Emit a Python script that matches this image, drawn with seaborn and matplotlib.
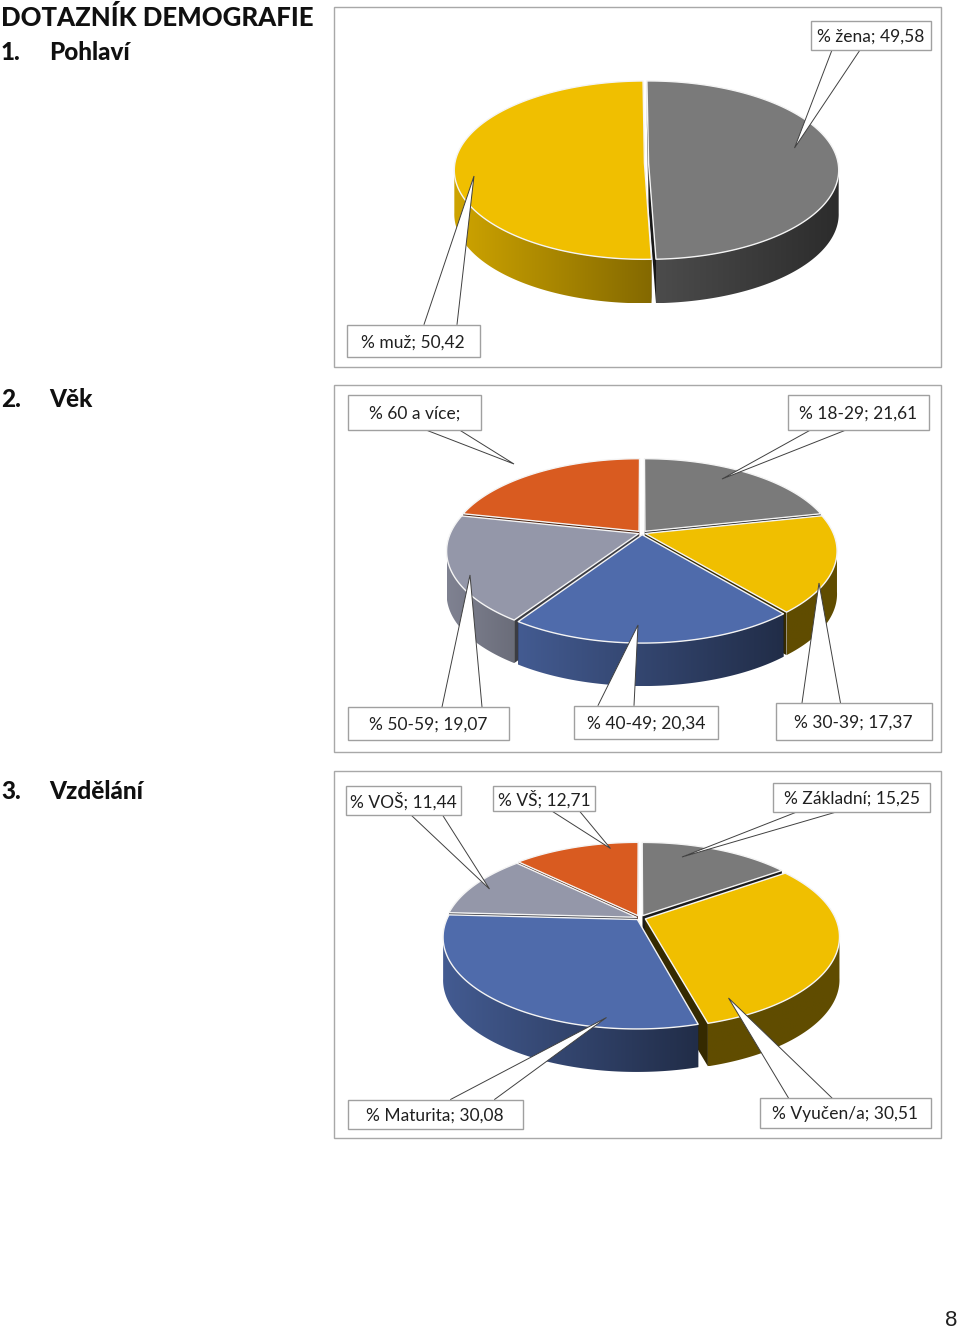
import numpy as np
import matplotlib
matplotlib.use("Agg")
import matplotlib.pyplot as plt
from matplotlib.colors import to_rgb
from matplotlib.patches import Polygon, Rectangle
import seaborn as sns

# ---- data ----
gender_values = [49.58, 50.42]
gender_labels = ["% žena; 49,58", "% muž; 50,42"]

age_values = [21.61, 17.37, 20.34, 19.07, 21.61]
age_labels = ["% 18-29; 21,61", "% 30-39; 17,37", "% 40-49; 20,34", "% 50-59; 19,07", "% 60 a více;"]

edu_values = [15.25, 30.51, 30.08, 11.44, 12.71]
edu_labels = ["% Základní; 15,25", "% Vyučen/a; 30,51", "% Maturita; 30,08", "% VOŠ; 11,44", "% VŠ; 12,71"]

# ---- style ----
sns.set_theme(style="white")
plt.rcParams["font.family"] = ["Lato", "DejaVu Sans"]
GRAY, YELLOW, BLUE, LAV, ORANGE = sns.color_palette(["#7a7a7a", "#f0bf00", "#4f6bab", "#9497a9", "#d95b20"])

fig = plt.figure(figsize=(9.6, 13.29), dpi=100)
ax = fig.add_axes([0, 0, 1, 1])
ax.set_xlim(0, 960)
ax.set_ylim(1329, 0)
ax.axis("off")


def shade(c, f):
    return tuple(min(1, x * f) for x in to_rgb(c))


def draw_pie(values, colors, walls, explode, cx, cy, rx, ry, depth, persp=0.19, rot=0.0):
    """Projected 3D pie; angles come from the values, clockwise from twelve o'clock."""
    fr = np.array(values) / np.sum(values)
    edges = 90 + rot - 360 * np.concatenate([[0], np.cumsum(fr)])

    def proj(u, v, z=0):
        w = 1 + persp * v
        return cx + rx * u / w, cy - ry * v / w + z

    order = sorted(range(len(values)),
                   key=lambda i: -np.sin(np.radians((edges[i] + edges[i + 1]) / 2)))
    base_z = 2.0
    for n, i in enumerate(order):
        z = base_z + n * 0.01
        a0, a1 = np.radians(edges[i]), np.radians(edges[i + 1])
        mid = (a0 + a1) / 2
        ox, oy = explode[i] * np.cos(mid), explode[i] * np.sin(mid)
        t = np.linspace(a0, a1, 200)
        u, v = np.cos(t) + ox, np.sin(t) + oy
        col = colors[i]
        f0, f1 = walls[i]
        # radial cut faces
        for a in (a0, a1):
            ux, vx = np.cos(a) + ox, np.sin(a) + oy
            p = [proj(ox, oy), proj(ux, vx), proj(ux, vx, depth), proj(ox, oy, depth)]
            ax.add_patch(Polygon(p, closed=True, fc=shade(col, min(f0, f1) * 0.55), ec="none", zorder=z))
        # outer wall, shaded left to right
        mask = np.sin(t) < -persp + 0.02
        if mask.sum() > 1:
            tu, tv = u[mask], v[mask]
            up = [proj(a, b) for a, b in zip(tu, tv)]
            lo_pts = [proj(a, b, depth) for a, b in zip(tu, tv)]
            poly = Polygon(up + lo_pts[::-1], closed=True, fc="none", ec="none",
                           transform=ax.transData)
            ax.add_patch(poly)
            xs = np.array([q[0] for q in up])
            ys = np.array([q[1] for q in up + lo_pts])
            lo, hi = xs.min(), xs.max()
            g = np.linspace(f0, f1, 256)
            img = np.array([[shade(col, f) for f in g]])
            im = ax.imshow(img, extent=(lo, hi, ys.max(), ys.min()), aspect="auto",
                           interpolation="bilinear", zorder=z + 0.001)
            im.set_clip_path(poly)
            ax.set_xlim(0, 960)
            ax.set_ylim(1329, 0)
        # top face
        pts = [proj(ox, oy)] + [proj(a, b) for a, b in zip(u, v)]
        ax.add_patch(Polygon(pts, closed=True, fc=col, ec="#f4f4f4", lw=1.0,
                             joinstyle="round", zorder=z + 0.002))


def panel(x0, y0, x1, y1):
    ax.add_patch(Rectangle((x0, y0), x1 - x0, y1 - y0, fc="white", ec="#a8a8a8", lw=1.0, zorder=1))


def callout(text, box, base, tip):
    x0, y0, x1, y1 = box
    ax.add_patch(Polygon([base[0], tip, base[1]], closed=True, fc="white", ec="none", zorder=3))
    ax.plot([base[0][0], tip[0], base[1][0]], [base[0][1], tip[1], base[1][1]],
            color="#404040", lw=0.7, zorder=3.1, solid_joinstyle="miter")
    ax.add_patch(Rectangle((x0, y0), x1 - x0, y1 - y0, fc="white", ec="#a0a0a0", lw=1.0, zorder=4))
    ax.text((x0 + x1) / 2, (y0 + y1) / 2 + 1.5, text, ha="center", va="center",
            fontsize=12.5, color="#202020", zorder=5)


# panels
panel(334, 7, 941, 367)
panel(334, 384.5, 941, 751.5)
panel(334, 770.5, 941, 1137.5)

# pies
draw_pie(gender_values, [GRAY, YELLOW], [(0.62, 0.36), (0.86, 0.55)], [0.011, 0.011],
         646.5, 163, 189.5, 88.6, 44, persp=0.08, rot=0.5)
draw_pie(age_values, [GRAY, YELLOW, BLUE, LAV, ORANGE],
         [(0.5, 0.4), (0.4, 0.4), (0.85, 0.42), (0.86, 0.72), (0.6, 0.6)],
         [0.025, 0.018, 0.02, 0.02, 0.025], 642, 533, 188, 87, 43)
draw_pie(edu_values, [GRAY, YELLOW, BLUE, LAV, ORANGE],
         [(0.5, 0.4), (0.4, 0.4), (0.85, 0.42), (0.8, 0.7), (0.6, 0.6)],
         [0.03, 0.03, 0.022, 0.02, 0.03], 640, 918, 190, 88, 43)

# callouts: gender
callout(gender_labels[0], (811, 21, 931, 50), [(832, 50), (860, 50)], (794.5, 148))
callout(gender_labels[1], (347, 324.5, 479.5, 357), [(424, 324.5), (457, 324.5)], (474, 176))
# callouts: age
callout(age_labels[4], (348, 395, 480.5, 430), [(426, 430), (459.5, 430)], (514, 464))
callout(age_labels[0], (788, 395, 929, 430), [(810.5, 430), (846, 430)], (722, 479))
callout(age_labels[3], (348, 707, 508.5, 739.5), [(442, 707), (482, 707)], (470, 575))
callout(age_labels[2], (574, 705.5, 718, 739), [(598, 705.5), (634, 705.5)], (638, 625))
callout(age_labels[1], (776, 703, 931.5, 740), [(802, 703), (840.5, 703)], (819, 583))
# callouts: education
callout(edu_labels[3], (346, 785.5, 460.5, 815), [(411, 815), (442.5, 815)], (489.5, 889))
callout(edu_labels[4], (493, 785.5, 595, 810.5), [(551, 810.5), (579, 810.5)], (610.5, 848.5))
callout(edu_labels[0], (773, 782.5, 930, 811.5), [(798, 811.5), (838, 811.5)], (682, 857))
callout(edu_labels[2], (347.5, 1099.5, 523, 1128.5), [(450.5, 1099.5), (494.5, 1099.5)], (606.5, 1017.5))
callout(edu_labels[1], (760, 1098, 931, 1127.5), [(788.5, 1098), (832, 1098)], (728.5, 998))

# headings
heads = [(1, 18, "DOTAZNÍK DEMOGRAFIE", 18.5), (1, 53, "1.", 17.5), (49.5, 53, "Pohlaví", 17.5),
         (1, 399.5, "2.", 17.5), (49.5, 399.5, "Věk", 17.5),
         (1, 791.5, "3.", 17.5), (49.5, 791.5, "Vzdělání", 17.5)]
for x, y, s, fs in heads:
    ax.text(x, y, s, fontsize=fs, fontweight=900, color="#101010", ha="left", va="center")
ax.text(957, 1320.5, "8", fontsize=16, family=["Liberation Sans"], color="#202020", ha="right", va="center")

fig.savefig("out.png", dpi=100)
